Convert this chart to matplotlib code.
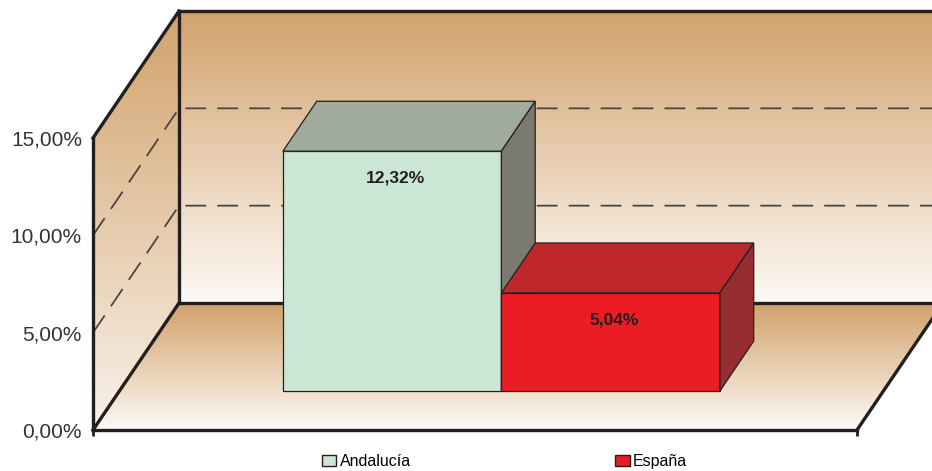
import numpy as np
import matplotlib.pyplot as plt
from matplotlib.patches import Polygon, Patch
from matplotlib.colors import LinearSegmentedColormap

plt.rcParams['font.family'] = ['Liberation Sans', 'DejaVu Sans']
plt.rcParams['lines.scale_dashes'] = False

series = ['Andalucía', 'España']
values = [12.32, 5.04]
y_ticks = [0, 5, 10, 15]

front_colors = ['#cce6d6', '#ec1c24']
top_colors = ['#a0ab9b', '#c0272d']
side_colors = ['#7a7a70', '#962d30']

ink = '#231f20'
tan = '#d2a26b'
cream = '#fdfaf6'


def pct(v):
    return f'{v:.2f}'.replace('.', ',') + '%'


fig = plt.figure(figsize=(9.32, 4.71), dpi=100)
ax = fig.add_axes([93 / 932, 41 / 471, 764 / 932, 292 / 471])

# depth of the box, in data units
DX = 86 / 764
DY = 127 / 292 * 15
ymax = y_ticks[-1]


def gradient_fill(xy, top, bottom):
    clip = Polygon(xy, closed=True, transform=ax.transData)
    xs = [p[0] for p in xy]
    ys = [p[1] for p in xy]
    cmap = LinearSegmentedColormap.from_list('wall', [bottom, top])
    grad = np.linspace(1, 0, 256).reshape(-1, 1)
    im = ax.imshow(grad, cmap=cmap, extent=(min(xs), max(xs), min(ys), max(ys)),
                   aspect='auto', origin='upper', zorder=0, interpolation='bilinear')
    im.set_clip_path(clip)
    im.set_clip_box(fig.bbox)


# walls and floor
back = [(DX, DY), (1 + DX, DY), (1 + DX, DY + ymax), (DX, DY + ymax)]
left = [(0, 0), (DX, DY), (DX, DY + ymax), (0, ymax)]
floor = [(0, 0), (1, 0), (1 + DX, DY), (DX, DY)]
gradient_fill(back, tan, cream)
gradient_fill(left, tan, '#f9f2ea')
gradient_fill(floor, tan, cream)

# dashed gridlines on the walls
for t in y_ticks[1:-1]:
    ax.plot([0, DX, 1 + DX], [t, t + DY, t + DY], color='#4a4540', lw=1.3,
            dashes=(15, 8), clip_on=False, zorder=1)

# frame edges
frame = [
    ([0, 0], [0, ymax]),
    ([0, 1], [0, 0]),
    ([0, DX], [0, DY]),
    ([0, DX], [ymax, ymax + DY]),
    ([DX, DX], [DY, DY + ymax]),
    ([DX, 1 + DX], [DY, DY]),
    ([DX, 1 + DX], [DY + ymax, DY + ymax]),
    ([1, 1 + DX], [0, DY]),
]
for xs, ys in frame:
    ax.plot(xs, ys, color=ink, lw=2.4, clip_on=False, zorder=2,
            solid_capstyle='projecting')

# 3D bars
w = 0.286
x_start = 0.5 - w * len(values) / 2
z0, z1 = 0.307, 0.70
ddx = (z1 - z0) * DX
ddy = (z1 - z0) * DY
for i, v in enumerate(values):
    x0 = x_start + i * w + z0 * DX
    y0 = z0 * DY
    x1 = x0 + w
    faces = [
        ([(x0, y0), (x1, y0), (x1, y0 + v), (x0, y0 + v)], front_colors[i]),
        ([(x0, y0 + v), (x1, y0 + v), (x1 + ddx, y0 + v + ddy), (x0 + ddx, y0 + v + ddy)], top_colors[i]),
        ([(x1, y0), (x1 + ddx, y0 + ddy), (x1 + ddx, y0 + v + ddy), (x1, y0 + v)], side_colors[i]),
    ]
    for xy, c in faces:
        ax.add_patch(Polygon(xy, closed=True, facecolor=c, edgecolor=ink, lw=0.9,
                             clip_on=False, zorder=3))
    ax.text(x0 + w / 2 + 0.004, y0 + v - 1.4, pct(v), ha='center', va='center',
            fontsize=12.5, fontweight='bold', color=ink, zorder=4)

ax.set_xlim(0, 1)
ax.set_ylim(0, ymax)
ax.set_yticks(y_ticks, labels=[pct(t) for t in y_ticks])
ax.set_xticks([0, 1], labels=['', ''])
ax.tick_params(axis='y', length=0, pad=8, labelsize=15, labelcolor='#333333')
ax.tick_params(axis='x', length=4, width=2, direction='out', color=ink)
for s in ax.spines.values():
    s.set_visible(False)
ax.patch.set_visible(False)

handles = [Patch(facecolor=c, edgecolor=ink, lw=1) for c in front_colors]
fig.legend(handles, series, loc='lower left', bbox_to_anchor=(0.3455, 0.004),
           ncol=2, frameon=False, fontsize=11.5, handlelength=0.9, handleheight=0.75,
           handletextpad=0.2, columnspacing=12.8, borderpad=0, borderaxespad=0)

fig.savefig('out.png', dpi=100)
